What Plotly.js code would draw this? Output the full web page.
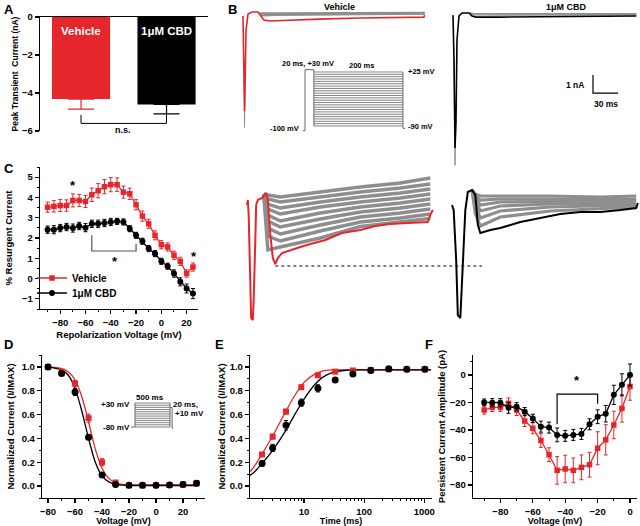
<!DOCTYPE html>
<html><head><meta charset="utf-8">
<script src="https://cdn.plot.ly/plotly-3.0.1.min.js"></script>
<style>html,body{margin:0;padding:0;background:#fff}#chart{width:640px;height:526px}</style>
</head><body><div id="chart"></div>
<script>
// ---------------- DATA ----------------
// Panel A: peak transient current (nA)
const groups = ['Vehicle', '1μM CBD'];
const peakTransient = [-4.32, -4.6];
const peakTransientErr = [0.53, 0.5];

// Panel B: example traces (time in ms, current in nA / pA)
const vehTopTime = [0, 1.2, 1.8, 2.4, 3.6, 6, 11, 18, 20, 25, 32, 56, 92, 140, 188, 217, 218];
const vehTopRed  = [-0.11, -2.56, -5.4, -4.2, -0.9, 0, 0.11, 0.11, 0, -0.33, -0.39, -0.33, -0.28, -0.22, -0.19, -0.17, -0.06];
const vehTopSpikeTime = [1.2, 1.8, 2.4];
const vehTopSpikeGray = [-2.5, -6.3, -4.2];
const vehTopGrayTime = [20, 24, 40, 100, 160, 218];
const vehTopGray = [
  [0.06, 0.05, 0.06, 0.07, 0.08, 0.08],
  [0.03, 0.0, 0.02, 0.04, 0.05, 0.05],
  [0.0, -0.04, -0.02, 0.0, 0.02, 0.03],
  [-0.03, -0.09, -0.06, -0.04, -0.02, 0.0]
];
const cbdTopTime  = [0, 1.2, 2.4, 3.6, 4.8, 7.2, 10.8, 19.2, 22.8, 27.6, 56, 116, 176, 220];
const cbdTopBlack = [-0.06, -2.56, -7.44, -5.9, -1.44, -0.11, 0.06, 0.06, -0.11, -0.17, -0.17, -0.14, -0.11, -0.11];
const cbdTopSpikeTime = [1.2, 2.4, 3.6];
const cbdTopSpikeGray = [-2.5, -8.4, -5.9];
const cbdTopGrayTime = [20, 24, 60, 120, 180, 220];
const cbdTopGray = [
  [0.06, 0.03, 0.02, 0.02, 0.02, 0.02],
  [0.04, -0.04, -0.05, -0.04, -0.04, -0.04]
];
const scaleBarTime = [420, 420, 450];
const scaleBarCurrent = [-3.39, -4.39, -4.39];

// Panel B lower: resurgent current, magnified (pA)
const vehLowTime = [0, 1, 2, 4, 5, 7, 8, 10, 11, 13, 18, 23, 25, 28, 31, 34, 37, 42, 52, 64, 76, 94, 114, 136, 154, 170, 193, 208, 217, 220, 223];
const vehLowRed  = [1220, 1320, 1020, -280, -1040, -1080, -680, 520, 1220, 1320, 1360, 1460, 1320, 620, 160, 40, 160, 260, 320, 380, 440, 520, 660, 720, 800, 840, 860, 880, 880, 1020, 1120];
const vehLowGrayTime = [20, 25, 40, 88, 136, 184, 220];
const vehLowGray = [
  [1440, 1420, 1380, 1480, 1580, 1660, 1760],
  [1440, 1340, 1280, 1380, 1480, 1560, 1640],
  [1440, 1240, 1160, 1280, 1380, 1460, 1540],
  [1440, 1140, 1040, 1180, 1280, 1360, 1440],
  [1440, 1020, 900, 1060, 1180, 1260, 1340],
  [1440, 900, 780, 940, 1080, 1160, 1240],
  [1440, 760, 640, 820, 980, 1060, 1140],
  [1440, 600, 500, 700, 880, 960, 1040],
  [1440, 320, 380, 560, 790, 880, 950]
];
const cbdLowTime  = [0, 2, 5, 7, 10, 12, 16, 19, 24, 28, 31, 34, 46, 58, 82, 106, 130, 154, 178, 202, 221, 223];
const cbdLowBlack = [1220, 1120, 120, -980, -1040, -280, 1120, 1480, 1520, 1420, 820, 660, 720, 760, 880, 960, 1040, 1080, 1080, 1120, 1160, 1260];
const cbdLowGrayTime = [24, 28, 34, 58, 118, 178, 221];
const cbdLowGray = [
  [1520, 1440, 1400, 1400, 1400, 1380, 1400],
  [1520, 1400, 1320, 1340, 1340, 1340, 1340],
  [1520, 1360, 1220, 1280, 1290, 1290, 1300],
  [1520, 1300, 1100, 1200, 1240, 1250, 1260],
  [1520, 1200, 960, 1100, 1180, 1200, 1220],
  [1520, 1050, 800, 980, 1100, 1150, 1180]
];
const dashedTime = [34, 282];
const dashedLevel = [0, 0];

// Panel B inset: voltage protocol (mV)
const protoBLevels = [25, 20, 15, 10, 5, 0, -5, -10, -15, -20, -25, -30, -35, -40, -45, -50, -55, -60, -65, -70, -75, -80, -85, -90];
const protoBOutlineT = [-5, 0, 0, 20, 20];
const protoBOutlineV = [-100, -100, 30, 30, -90];

// Panel C: % resurgent current
const repolVoltage = [-90, -85, -80, -75, -70, -65, -60, -55, -50, -45, -40, -35, -30, -25, -20, -15, -10, -5, 0, 5, 10, 15, 20, 25];
const resurgVehicle = [3.52, 3.56, 3.6, 3.6, 3.85, 3.85, 3.8, 4.13, 4.33, 4.53, 4.63, 4.63, 4.26, 4.18, 3.64, 3.08, 2.7, 2.13, 1.67, 1.56, 1.15, 0.85, 0.25, 0.57];
const resurgVehicleErr = [0.25, 0.28, 0.3, 0.28, 0.32, 0.3, 0.3, 0.33, 0.35, 0.35, 0.35, 0.33, 0.3, 0.28, 0.25, 0.25, 0.22, 0.22, 0.2, 0.2, 0.2, 0.2, 0.18, 0.2];
const resurgCBD = [2.41, 2.41, 2.49, 2.54, 2.49, 2.59, 2.51, 2.7, 2.7, 2.74, 2.79, 2.82, 2.79, 2.46, 2.13, 1.84, 1.48, 1.23, 0.85, 0.61, 0.25, -0.16, -0.49, -0.74];
const resurgCBDErr = [0.18, 0.2, 0.18, 0.18, 0.2, 0.18, 0.2, 0.18, 0.18, 0.18, 0.18, 0.15, 0.15, 0.15, 0.15, 0.15, 0.15, 0.15, 0.15, 0.15, 0.18, 0.2, 0.22, 0.25];

// Panel D: steady-state inactivation
const inactVoltage = [-80, -70, -60, -50, -40, -30, -20, -10, 0, 10, 20, 30];
const inactVehicle = [1.0, 0.96, 0.86, 0.57, 0.2, 0.03, 0.006, 0.006, 0.006, 0.009, 0.014, 0.023];
const inactVehicleErr = [0.005, 0.01, 0.025, 0.035, 0.03, 0.012, 0.005, 0.005, 0.005, 0.005, 0.005, 0.005];
const inactCBD = [1.0, 0.945, 0.79, 0.41, 0.094, 0.014, 0.006, 0.006, 0.006, 0.009, 0.014, 0.023];
const inactCBDErr = [0.005, 0.015, 0.03, 0.02, 0.015, 0.008, 0.005, 0.005, 0.005, 0.005, 0.005, 0.005];
const inactFitV = [-80, -75, -70, -65, -60, -55, -50, -45, -40, -35, -30, -25, -20, -10, 0, 10, 20, 30];
const inactFitVehicle = [0.998, 0.995, 0.985, 0.96, 0.89, 0.75, 0.54, 0.31, 0.15, 0.065, 0.028, 0.014, 0.01, 0.01, 0.01, 0.01, 0.01, 0.01];
const inactFitCBD = [0.998, 0.99, 0.975, 0.93, 0.82, 0.63, 0.4, 0.2, 0.085, 0.035, 0.015, 0.008, 0.005, 0.005, 0.005, 0.005, 0.005, 0.005];
const protoDLevels = [30, 20, 10, 0, -10, -20, -30, -40, -50, -60, -70, -80];

// Panel E: recovery from inactivation
const recovTime = [2, 3, 5, 9, 17, 33, 65, 129, 257, 513, 1025];
const recovVehicle = [0.265, 0.415, 0.625, 0.83, 0.93, 0.96, 0.97, 0.975, 0.98, 0.98, 0.98];
const recovVehicleErr = [0.015, 0.02, 0.02, 0.015, 0.01, 0.01, 0.01, 0.01, 0.01, 0.01, 0.01];
const recovCBD = [0.19, 0.32, 0.51, 0.7, 0.82, 0.89, 0.94, 0.97, 0.985, 0.98, 0.98];
const recovCBDErr = [0.02, 0.03, 0.04, 0.03, 0.03, 0.015, 0.01, 0.01, 0.01, 0.01, 0.01];
const recovFitTime = [1.26, 1.5, 2, 3, 5, 7, 10, 15, 20, 30, 50, 100, 1300];
const recovFitVehicle = [0.12, 0.17, 0.27, 0.42, 0.63, 0.76, 0.87, 0.94, 0.965, 0.975, 0.975, 0.975, 0.975];
const recovFitCBD = [0.09, 0.12, 0.19, 0.3, 0.47, 0.6, 0.73, 0.85, 0.91, 0.955, 0.972, 0.975, 0.975];

// Panel F: persistent current amplitude (pA)
const persistVoltage = [-90, -85, -80, -75, -70, -65, -60, -55, -50, -45, -40, -35, -30, -25, -20, -15, -10, -5, 0];
const persistVehicle = [-25.5, -23.6, -23.6, -20.7, -25.5, -33.5, -38.8, -47.7, -58, -69.4, -68.4, -69.4, -67.2, -65.3, -53.3, -47.2, -36.4, -24.3, -8.4];
const persistVehicleErr = [3, 3, 3, 4, 4, 4, 4, 5, 5, 10, 10, 9, 9, 9, 12, 11, 10, 10, 10];
const persistCBD = [-20, -20.2, -20.2, -23.9, -23.1, -26.7, -31.6, -37.6, -38.3, -43.6, -44.3, -43.6, -42.9, -35.9, -30.4, -28.2, -14.5, -7.2, 0];
const persistCBDErr = [2.5, 3, 3, 4, 3, 3, 3, 4, 4, 5, 4, 4, 4, 4, 5, 6, 7, 8, 8];

// ---------------- STYLE / LAYOUT ----------------
const RED = '#e5262b', BLACK = '#000000', GRAY = '#8e8e8e', PGRAY = '#666666';
const FONT = 'Liberation Sans, Arial, sans-serif';
const W = 640, H = 526;
const X = p => p / W, Y = p => 1 - p / H;
const dX = (a, b) => [X(a), X(b)];
const dY = (top, bottom) => [Y(bottom), Y(top)];
const CBD_TOP_OFFSET = 252, CBD_LOW_OFFSET = 246;

function ttl(text, standoff, size) {
  return {text, standoff, font: {family: FONT, size: size || 9.5, color: '#000', weight: 'bold'}};
}
function axis(domain, range, anchor, extra) {
  return Object.assign({
    domain, range, anchor, showline: true, linecolor: '#000', linewidth: 1.2,
    ticks: 'outside', ticklen: 4, tickwidth: 1.2, tickcolor: '#000',
    showgrid: false, zeroline: false, mirror: false, fixedrange: true,
    tickfont: {family: FONT, size: 9.5, color: '#000', weight: 'bold'}
  }, extra);
}
function hidden(domain, range, anchor, extra) {
  return Object.assign({domain, range, anchor, visible: false, fixedrange: true}, extra || {});
}
const minorT = {ticks: 'outside', ticklen: 2, tickwidth: 1, tickcolor: '#000'};

const traces = [];
const L = (x, y, xa, ya, color, width, extra) => Object.assign({
  type: 'scatter', mode: 'lines', x, y, xaxis: xa, yaxis: ya,
  line: {color, width}, showlegend: false, hoverinfo: 'skip'
}, extra || {});

// ---- Panel A
traces.push({type: 'bar', x: [0], y: [peakTransient[0]], width: 0.68, name: groups[0],
  marker: {color: RED, line: {width: 0}}, xaxis: 'x', yaxis: 'y', showlegend: false,
  error_y: {type: 'data', symmetric: false, array: [0], arrayminus: [peakTransientErr[0]], color: RED, thickness: 1.2, width: 13}});
traces.push({type: 'bar', x: [1], y: [peakTransient[1]], width: 0.68, name: groups[1],
  marker: {color: BLACK, line: {width: 0}}, xaxis: 'x', yaxis: 'y', showlegend: false,
  error_y: {type: 'data', symmetric: false, array: [0], arrayminus: [peakTransientErr[1]], color: BLACK, thickness: 1.2, width: 13}});
traces.push(L([0, 0, 1, 1], [-5.15, -5.6, -5.6, -5.12], 'x', 'y', BLACK, 1));

// ---- Panel B top
traces.push(L(vehTopSpikeTime, vehTopSpikeGray, 'x6', 'y6', GRAY, 1));
vehTopGray.forEach(g => traces.push(L(vehTopGrayTime, g, 'x6', 'y6', GRAY, 1.6)));
traces.push(L(vehTopTime, vehTopRed, 'x6', 'y6', RED, 1.6));
traces.push(L(cbdTopSpikeTime.map(t => t + CBD_TOP_OFFSET), cbdTopSpikeGray, 'x6', 'y6', GRAY, 1));
cbdTopGray.forEach(g => traces.push(L(cbdTopGrayTime.map(t => t + CBD_TOP_OFFSET), g, 'x6', 'y6', GRAY, 1.6)));
traces.push(L(cbdTopTime.map(t => t + CBD_TOP_OFFSET), cbdTopBlack, 'x6', 'y6', BLACK, 1.6));
traces.push(L(scaleBarTime, scaleBarCurrent, 'x6', 'y6', BLACK, 1.2));

// ---- Panel B lower
vehLowGray.forEach(g => traces.push(L(vehLowGrayTime, g, 'x7', 'y7', GRAY, 3.4)));
traces.push(L(vehLowTime, vehLowRed, 'x7', 'y7', RED, 2));
cbdLowGray.forEach(g => traces.push(L(cbdLowGrayTime.map(t => t + CBD_LOW_OFFSET), g, 'x7', 'y7', GRAY, 3.2)));
traces.push(L(cbdLowTime.map(t => t + CBD_LOW_OFFSET), cbdLowBlack, 'x7', 'y7', BLACK, 2));
traces.push(L(dashedTime, dashedLevel, 'x7', 'y7', BLACK, 1, {line: {color: BLACK, width: 1, dash: 'dot'}}));

// ---- Panel B protocol inset
(function () {
  const xs = [], ys = [];
  protoBLevels.forEach(v => { xs.push(20, 220, null); ys.push(v, v, null); });
  traces.push(L(xs, ys, 'x8', 'y8', PGRAY, 0.8));
  traces.push(L(protoBOutlineT, protoBOutlineV, 'x8', 'y8', PGRAY, 1));
  traces.push(L([220, 220, 225], [protoBLevels[0], -95, -95], 'x8', 'y8', PGRAY, 1));
})();

// ---- Panel C
traces.push({type: 'scatter', mode: 'lines+markers', name: 'Vehicle', x: repolVoltage, y: resurgVehicle,
  xaxis: 'x2', yaxis: 'y2', line: {color: RED, width: 1.3}, marker: {symbol: 'square', size: 5.5, color: RED},
  error_y: {type: 'data', array: resurgVehicleErr, color: RED, thickness: 1, width: 2}, legend: 'legend'});
traces.push({type: 'scatter', mode: 'lines+markers', name: '1μM CBD', x: repolVoltage, y: resurgCBD,
  xaxis: 'x2', yaxis: 'y2', line: {color: BLACK, width: 1.3}, marker: {symbol: 'circle', size: 6, color: BLACK},
  error_y: {type: 'data', array: resurgCBDErr, color: BLACK, thickness: 1, width: 2}, legend: 'legend2'});
traces.push(L([-55, -55, -20, -20], [2.13, 1.36, 1.36, 1.72], 'x2', 'y2', '#555555', 1.2));

// ---- Panel D
traces.push(L(inactFitV, inactFitVehicle, 'x3', 'y3', RED, 1.3, {line: {color: RED, width: 1.3, shape: 'spline', smoothing: 0.8}}));
traces.push(L(inactFitV, inactFitCBD, 'x3', 'y3', BLACK, 1.3, {line: {color: BLACK, width: 1.3, shape: 'spline', smoothing: 0.8}}));
traces.push({type: 'scatter', mode: 'markers', x: inactVoltage, y: inactVehicle, xaxis: 'x3', yaxis: 'y3', showlegend: false,
  marker: {symbol: 'square', size: 6, color: RED}, error_y: {type: 'data', array: inactVehicleErr, color: RED, thickness: 1, width: 2}});
traces.push({type: 'scatter', mode: 'markers', x: inactVoltage, y: inactCBD, xaxis: 'x3', yaxis: 'y3', showlegend: false,
  marker: {symbol: 'circle', size: 7, color: BLACK}, error_y: {type: 'data', array: inactCBDErr, color: BLACK, thickness: 1, width: 2}});
(function () {
  const xs = [], ys = [];
  protoDLevels.forEach(v => { xs.push(0, 500, null); ys.push(v, v, null); });
  traces.push(L(xs, ys, 'x9', 'y9', PGRAY, 0.8));
  traces.push(L([-60, 0, 0], [-80, -80, 30], 'x9', 'y9', PGRAY, 1));
  traces.push(L([500, 500, null, 500, 530, 530, 545], [30, -80, null, 10, 10, -85, -85], 'x9', 'y9', PGRAY, 1));
})();

// ---- Panel E
traces.push(L(recovFitTime, recovFitVehicle, 'x4', 'y4', RED, 1.3, {line: {color: RED, width: 1.3, shape: 'spline', smoothing: 0.8}}));
traces.push(L(recovFitTime, recovFitCBD, 'x4', 'y4', BLACK, 1.3, {line: {color: BLACK, width: 1.3, shape: 'spline', smoothing: 0.8}}));
traces.push({type: 'scatter', mode: 'markers', x: recovTime, y: recovVehicle, xaxis: 'x4', yaxis: 'y4', showlegend: false,
  marker: {symbol: 'square', size: 6, color: RED}, error_y: {type: 'data', array: recovVehicleErr, color: RED, thickness: 1, width: 2}});
traces.push({type: 'scatter', mode: 'markers', x: recovTime, y: recovCBD, xaxis: 'x4', yaxis: 'y4', showlegend: false,
  marker: {symbol: 'circle', size: 7, color: BLACK}, error_y: {type: 'data', array: recovCBDErr, color: BLACK, thickness: 1, width: 2}});

// ---- Panel F
traces.push({type: 'scatter', mode: 'lines+markers', x: persistVoltage, y: persistVehicle, xaxis: 'x5', yaxis: 'y5', showlegend: false,
  line: {color: RED, width: 1.3}, marker: {symbol: 'square', size: 5.5, color: RED},
  error_y: {type: 'data', array: persistVehicleErr, color: RED, thickness: 1, width: 2}});
traces.push({type: 'scatter', mode: 'lines+markers', x: persistVoltage, y: persistCBD, xaxis: 'x5', yaxis: 'y5', showlegend: false,
  line: {color: BLACK, width: 1.3}, marker: {symbol: 'circle', size: 6, color: BLACK},
  error_y: {type: 'data', array: persistCBDErr, color: BLACK, thickness: 1, width: 2}});
traces.push(L([-45, -45, -20, -20], [-35.6, -14, -14, -21], 'x5', 'y5', BLACK, 1.2));

// ---------------- ANNOTATIONS ----------------
const ann = [];
const txt = (text, x, y, xref, yref, o) => Object.assign({text, x, y, xref, yref, showarrow: false,
  font: {family: FONT, size: 9, color: '#000', weight: 'bold'}, xanchor: 'center', yanchor: 'middle'}, o || {});
const panel = (t, px, py) => txt(t, X(px), Y(py), 'paper', 'paper', {xanchor: 'left', yanchor: 'top', font: {family: FONT, size: 13, color: '#000', weight: 'bold'}});
ann.push(panel('A', 2, 0), panel('B', 226, 0), panel('C', 2, 159), panel('D', 2, 335), panel('E', 213, 335), panel('F', 423, 335));
// A
ann.push(txt('Vehicle', 0, -0.75, 'x', 'y', {font: {family: FONT, size: 11.5, color: '#fff', weight: 'bold'}}));
ann.push(txt('1μM CBD', 1, -0.75, 'x', 'y', {font: {family: FONT, size: 11.5, color: '#fff', weight: 'bold'}}));
ann.push(txt('n.s.', 0.49, -5.95, 'x', 'y', {font: {family: FONT, size: 9, color: '#000', weight: 'bold'}}));
// B titles & scale bar labels
ann.push(txt('Vehicle', X(339), Y(7), 'paper', 'paper'));
ann.push(txt('1μM CBD', X(566), Y(7), 'paper', 'paper'));
ann.push(txt('1 nA', X(586), Y(85), 'paper', 'paper', {xanchor: 'right', font: {family: FONT, size: 8.5, color: '#000', weight: 'bold'}}));
ann.push(txt('30 ms', X(606), Y(104), 'paper', 'paper', {font: {family: FONT, size: 8.5, color: '#000', weight: 'bold'}}));
// B protocol labels (inset coordinates: ms, mV)
const pf = {family: FONT, size: 7.5, color: '#000', weight: 'bold'};
ann.push(txt('20 ms, +30 mV', 6.7, 44, 'x8', 'y8', {font: pf}));
ann.push(txt('200 ms', 128, 38, 'x8', 'y8', {font: pf}));
ann.push(txt('+25 mV', 227, 27, 'x8', 'y8', {font: pf, xanchor: 'left'}));
ann.push(txt('-90 mV', 227, -92, 'x8', 'y8', {font: pf, xanchor: 'left'}));
ann.push(txt('-100 mV', -9, -96, 'x8', 'y8', {font: pf, xanchor: 'right'}));
// C stars
const star = {family: FONT, size: 13, color: '#000', weight: 'bold'};
ann.push(txt('*', -70, 4.1, 'x2', 'y2', {font: star, yanchor: 'bottom'}));
ann.push(txt('*', 25.5, 0.6, 'x2', 'y2', {font: star, yanchor: 'bottom'}));
ann.push(txt('*', -37, 0.35, 'x2', 'y2', {font: star, yanchor: 'bottom'}));
// D protocol labels (inset coordinates)
const df = {family: FONT, size: 8, color: '#000', weight: 'bold'};
ann.push(txt('+30 mV', -43, 21, 'x9', 'y9', {font: df, xanchor: 'right'}));
ann.push(txt('-80 mV', -43, -80, 'x9', 'y9', {font: df, xanchor: 'right'}));
ann.push(txt('500 ms', 214, 57, 'x9', 'y9', {font: df}));
ann.push(txt('20 ms,', 514, 25, 'x9', 'y9', {font: df, xanchor: 'left'}));
ann.push(txt('+10 mV', 543, -16, 'x9', 'y9', {font: df, xanchor: 'left'}));
// F star
ann.push(txt('*', -32.5, -11, 'x5', 'y5', {font: star, yanchor: 'bottom'}));

// ---------------- LAYOUT ----------------
const legendBase = {xanchor: 'left', yanchor: 'middle', bgcolor: 'rgba(0,0,0,0)', borderwidth: 0,
  font: {family: FONT, size: 10, color: '#000', weight: 'bold'}, itemwidth: 30};
const layout = {
  width: W, height: H, margin: {l: 0, r: 0, t: 0, b: 0},
  paper_bgcolor: '#fff', plot_bgcolor: 'rgba(0,0,0,0)',
  font: {family: FONT, color: '#000'},
  barmode: 'overlay',
  showlegend: true,
  legend: Object.assign({x: X(32), y: Y(278)}, legendBase),
  legend2: Object.assign({x: X(32), y: Y(293)}, legendBase),
  // A
  xaxis: axis(dX(40, 208), [-0.48, 1.485], 'y', {side: 'top', ticks: '', showticklabels: false}),
  yaxis: axis(dY(17, 131), [-6, 0], 'x', {tickvals: [0, -2, -4, -6], title: ttl('Peak Transient  Current (nA)', 2, 8.5)}),
  // C
  xaxis2: axis(dX(40, 198), [-96, 29], 'y2', {tick0: 0, dtick: 20, minor: Object.assign({dtick: 10}, minorT), title: ttl('Repolarization Voltage (mV)', 4)}),
  yaxis2: axis(dY(167, 309), [-1.5, 5.5], 'x2', {dtick: 1, minor: Object.assign({dtick: 0.5}, minorT), title: ttl('% Resurgent Current', 7)}),
  // D
  xaxis3: axis(dX(42, 205), [-84.5, 36.3], 'y3', {tick0: 0, dtick: 20, minor: Object.assign({dtick: 10}, minorT), title: ttl('Voltage (mV)', 4, 9)}),
  yaxis3: axis(dY(355, 498), [-0.1, 1.1], 'x3', {dtick: 0.2, tickformat: '.1f', minor: Object.assign({dtick: 0.1}, minorT), title: ttl('Normalized Current (I/IMAX)', 5)}),
  // E
  xaxis4: axis(dX(250, 432), [0.1, 3.13], 'y4', {type: 'log', tickvals: [10, 100, 1000], ticktext: ['10', '100', '1000'],
    minor: Object.assign({tickvals: [2, 3, 4, 5, 6, 7, 8, 9, 20, 30, 40, 50, 60, 70, 80, 90, 200, 300, 400, 500, 600, 700, 800, 900]}, minorT), title: ttl('Time (ms)', 4, 9)}),
  yaxis4: axis(dY(355, 498), [-0.1, 1.1], 'x4', {dtick: 0.2, tickformat: '.1f', minor: Object.assign({dtick: 0.1}, minorT), title: ttl('Normalized Current (I/IMAX)', 2)}),
  // F
  xaxis5: axis(dX(473, 637), [-96.9, 4.3], 'y5', {tick0: 0, dtick: 20, minor: Object.assign({dtick: 10}, minorT), title: ttl('Voltage (mV)', 4, 9)}),
  yaxis5: axis(dY(355, 498), [-89.5, 14.5], 'x5', {dtick: 20, minor: Object.assign({dtick: 10}, minorT), title: ttl('Persistent Current Amplitude (pA)', 2)}),
  // B hidden axes
  xaxis6: hidden(dX(240, 640), [-3.6, 476.4], 'y6'),
  yaxis6: hidden(dY(0, 175), [-8.94, 0.78], 'x6'),
  xaxis7: hidden(dX(240, 640), [-8.4, 471.6], 'y7'),
  yaxis7: hidden(dY(176, 332), [-1320, 1800], 'x7'),
  xaxis8: hidden(dX(290, 420), [-33.7, 258.4], 'y8'),
  yaxis8: hidden(dY(55, 140), [-119.8, 61.2], 'x8'),
  xaxis9: hidden(dX(110, 185), [-357, 714], 'y9'),
  yaxis9: hidden(dY(395, 435), [-116.7, 66.7], 'x9'),
  annotations: ann
};

Plotly.newPlot('chart', traces, layout, {staticPlot: true, displayModeBar: false});
</script>
</body></html>
